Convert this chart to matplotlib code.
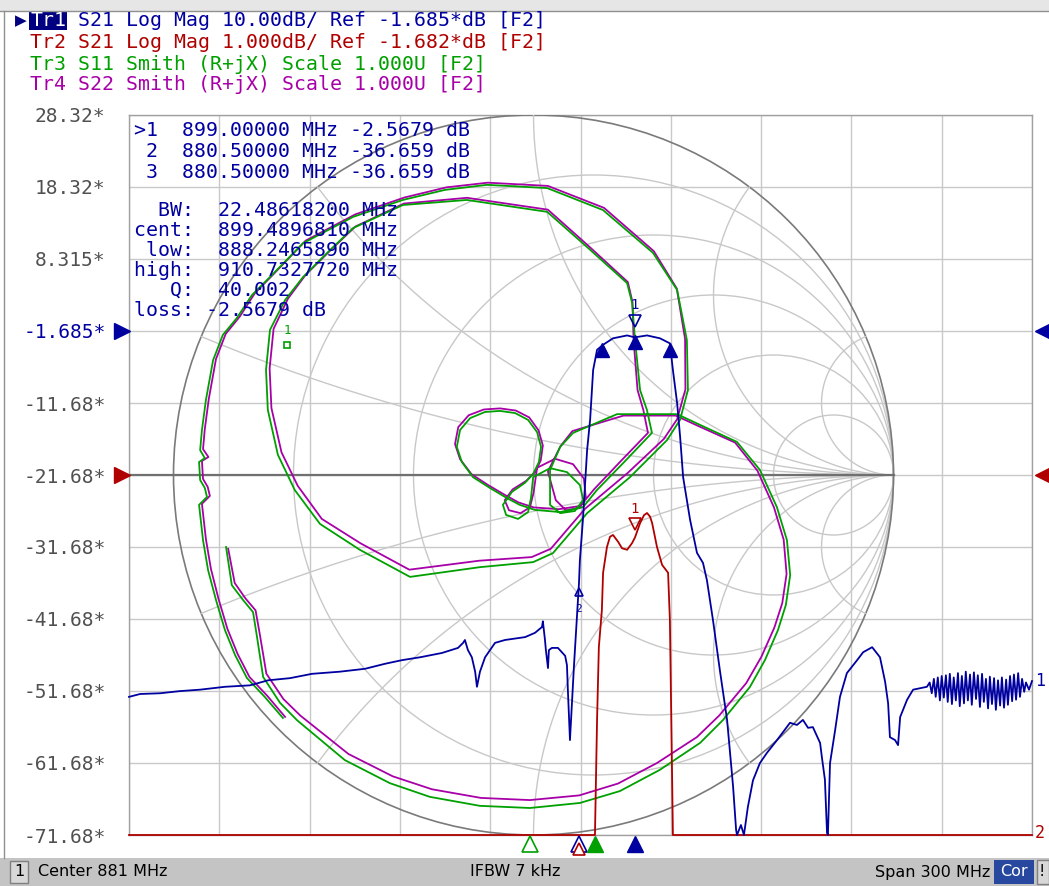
import numpy as np
import matplotlib
matplotlib.use('Agg')
import matplotlib.pyplot as plt
from matplotlib.patches import Circle, Rectangle
import matplotlib.transforms as mtrans

# ---------------- data ----------------
f_start, f_stop = 731.0, 1031.0          # Center 881 MHz, Span 300 MHz
tr1_ref, tr1_div = -1.685, 10.0          # dB, dB/div, ref at div 7 from bottom
tr2_ref, tr2_div = -1.682, 1.0           # dB, dB/div, ref at centre
ytick_labels = ["28.32*", "18.32*", "8.315*", "-1.685*", "-11.68*", "-21.68*",
                "-31.68*", "-41.68*", "-51.68*", "-61.68*", "-71.68*"]

# Tr1  S21 log mag (MHz, dB)
tr1_freq = [731.0, 734.7, 741.3, 747.9, 754.6, 762.9, 771.2, 777.2, 784.5, 791.8,
            801.1, 809.4, 816.1, 821.7, 827.7, 835.0, 840.3, 842.0, 842.6, 843.6,
            844.9, 846.0, 846.6, 847.6, 849.3, 852.6, 855.9, 862.6, 865.9, 868.2,
            868.5, 869.2, 869.5, 870.2, 870.5, 871.5, 873.5, 875.9, 876.5, 876.8,
            877.5, 878.2, 878.8, 879.5, 880.5, 880.8, 881.8, 883.2, 884.2, 885.2,
            886.5, 888.5, 891.8, 896.5, 899.0, 903.1, 907.4, 910.7, 911.7, 913.1,
            914.1, 915.1, 917.4, 919.7, 921.7, 923.0, 925.0, 927.3, 929.7, 930.7,
            931.7, 932.7, 933.0, 934.3, 935.3, 936.6, 938.3, 940.6, 942.9, 946.3,
            950.6, 952.9, 954.9, 956.6, 958.2, 960.6, 961.2, 962.2, 962.9, 963.2,
            963.9, 965.6, 967.2, 969.5, 972.9, 974.9, 977.9, 980.5, 982.2, 983.2,
            983.8, 985.5, 986.5, 987.2, 989.5, 991.5, 993.8, 996.1,
            997.0, 997.7, 998.4, 999.0, 999.7, 1000.4, 1001.0, 1001.7, 1002.4, 1003.0,
            1003.7, 1004.4, 1005.0, 1005.7, 1006.4, 1007.0, 1007.7, 1008.4, 1009.0, 1009.7,
            1010.4, 1011.0, 1011.7, 1012.4, 1013.0, 1013.7, 1014.4, 1015.0, 1015.7, 1016.4,
            1017.0, 1017.7, 1018.4, 1019.0, 1019.7, 1020.4, 1021.0, 1021.7, 1022.4, 1023.0,
            1023.7, 1024.4, 1025.0, 1025.7, 1026.4, 1027.0, 1027.7, 1028.4, 1029.0, 1030.0,
            1031.0]
tr1_db = [-52.5, -52.1, -52.0, -51.7, -51.5, -51.1, -50.9, -50.2, -49.9, -49.3,
          -49.0, -48.6, -47.9, -47.4, -47.0, -46.4, -45.7, -45.0, -44.6, -46.0,
          -47.0, -49.0, -51.1, -49.0, -47.0, -45.0, -44.6, -44.2, -43.6, -42.8,
          -42.0, -44.6, -46.0, -48.5, -46.0, -45.7, -45.7, -46.8, -48.1, -51.5,
          -58.5, -53.0, -48.4, -43.6, -36.66, -33.5, -27.9, -18.2, -14.0, -7.1,
          -4.3, -3.6, -2.7, -2.3, -2.57, -2.3, -2.7, -3.4, -7.1, -11.7,
          -16.4, -22.0, -27.9, -32.5, -33.9, -36.3, -41.8, -48.8, -55.7, -60.3,
          -65.0, -71.0, -71.68, -70.3, -71.68, -67.8, -64.1, -61.7, -60.3, -58.5,
          -56.1, -56.4, -55.7, -56.8, -56.7, -58.9, -60.9, -64.0, -71.4, -71.68,
          -61.7, -57.1, -52.5, -49.2, -47.4, -46.3, -45.6, -47.0, -50.4, -53.4,
          -58.1, -58.5, -59.2, -55.3, -52.9, -51.5, -51.3, -51.1,
          -50.5, -52.0, -50.0, -52.5, -49.8, -53.0, -49.6, -52.6, -49.5, -53.2,
          -49.3, -53.5, -49.8, -53.0, -49.2, -53.8, -49.6, -53.4, -49.0, -53.0,
          -49.4, -53.6, -49.1, -52.8, -49.5, -53.9, -49.3, -53.2, -50.0, -54.1,
          -49.7, -53.5, -49.9, -54.3, -50.2, -53.7, -49.8, -54.0, -50.1, -53.6,
          -49.6, -53.1, -49.4, -52.9, -49.2, -52.5, -50.0, -51.8, -50.5, -51.5,
          -50.3]

# Tr2  S21 log mag zoomed (MHz, dB), clamped at the display floor
tr2_freq = [731.0, 885.8, 886.5, 887.1, 888.1, 888.5, 889.8, 890.8, 891.8, 893.5,
            894.8, 896.5, 898.1, 899.1, 900.8, 902.1, 903.1, 904.1, 904.8, 906.4,
            908.1, 910.1, 910.7, 911.4, 911.7, 1031.0]
tr2_db = [-6.682, -6.682, -5.085, -4.07, -3.56, -3.04, -2.68, -2.54, -2.515, -2.61,
          -2.70, -2.72, -2.63, -2.55, -2.35, -2.24, -2.21, -2.26, -2.35, -2.68,
          -2.93, -3.04, -3.70, -5.78, -6.682, -6.682]

# Tr3  S11 Smith (reflection coefficient, real / imag)
s11_re = [-0.696, -0.746, -0.796, -0.829, -0.857, -0.882, -0.904, -0.918, -0.929, -0.907,
          -0.913, -0.926, -0.929, -0.913, -0.926, -0.921, -0.910, -0.890, -0.863, -0.824,
          -0.782, -0.732, -0.640, -0.501, -0.363, -0.246, -0.129, 0.038, 0.193, 0.332,
          0.399, 0.426, 0.429, 0.407, 0.371, 0.268, 0.149, 0.054, -0.001, -0.149,
          -0.343, -0.482, -0.593, -0.663, -0.710, -0.738, -0.743, -0.732, -0.690, -0.640,
          -0.565, -0.501, -0.363, -0.185, 0.038, 0.149, 0.260, 0.274, 0.282, 0.296,
          0.315, 0.329, 0.249, 0.176, 0.138,
          0.074, 0.004, -0.038,
          -0.074, -0.121, -0.168, -0.199, -0.213, -0.204, -0.176, -0.135, -0.093, -0.051,
          -0.015, 0.010, 0.021, 0.015, -0.001, -0.024,
          -0.060, -0.085, -0.076, -0.043, -0.015, -0.007, -0.001, 0.046, 0.093, 0.129,
          0.138, 0.115, 0.074, 0.046, 0.046, 0.074, 0.110, 0.232, 0.399,
          0.463, 0.565, 0.629, 0.676, 0.704, 0.713,
          0.701, 0.679, 0.643, 0.601, 0.526, 0.463, 0.351, 0.240, 0.129, -0.010,
          -0.149, -0.288, -0.399, -0.524, -0.657, -0.704, -0.751, -0.768, -0.779, -0.807,
          -0.838, -0.854]
s11_im = [-0.675, -0.617, -0.564, -0.500, -0.431, -0.347, -0.264, -0.181, -0.083, -0.061,
          -0.036, -0.014, 0.036, 0.047, 0.069, 0.125, 0.208, 0.319, 0.389, 0.436,
          0.500, 0.550, 0.644, 0.717, 0.764, 0.792, 0.806, 0.797, 0.736, 0.617,
          0.514, 0.375, 0.236, 0.153, 0.097, -0.006, -0.106, -0.217, -0.242, -0.256,
          -0.283, -0.208, -0.136, -0.042, 0.056, 0.181, 0.292, 0.403, 0.486, 0.550,
          0.625, 0.686, 0.750, 0.764, 0.731, 0.633, 0.533, 0.478, 0.375, 0.236,
          0.181, 0.117, 0.033, -0.042, -0.089,
          -0.103, -0.097, -0.083,
          -0.064, -0.036, -0.006, 0.036, 0.078, 0.125, 0.158, 0.175, 0.178, 0.172,
          0.153, 0.119, 0.078, 0.036, 0.003, -0.022,
          -0.047, -0.083, -0.111, -0.122, -0.103, -0.064, -0.006, 0.019, 0.008, -0.028,
          -0.069, -0.100, -0.106, -0.083, 0.014, 0.078, 0.117, 0.169, 0.169,
          0.139, 0.092, 0.014, -0.089, -0.181, -0.278,
          -0.361, -0.431, -0.514, -0.589, -0.681, -0.744, -0.819, -0.878, -0.911, -0.925,
          -0.919, -0.894, -0.856, -0.792, -0.681, -0.633, -0.561, -0.450, -0.381, -0.347,
          -0.306, -0.200]

# Tr4  S22 Smith (reflection coefficient, real / imag)
s22_re = [-0.690, -0.739, -0.789, -0.822, -0.850, -0.875, -0.896, -0.910, -0.921, -0.899,
          -0.905, -0.918, -0.921, -0.903, -0.918, -0.913, -0.902, -0.882, -0.855, -0.816,
          -0.774, -0.724, -0.633, -0.495, -0.358, -0.242, -0.127, 0.040, 0.196, 0.334,
          0.398, 0.421, 0.422, 0.399, 0.362, 0.262, 0.143, 0.048, -0.005, -0.150,
          -0.345, -0.480, -0.588, -0.655, -0.700, -0.728, -0.733, -0.722, -0.682, -0.633,
          -0.558, -0.495, -0.360, -0.185, 0.040, 0.152, 0.262, 0.275, 0.278, 0.289,
          0.305, 0.318, 0.240, 0.168, 0.130,
          0.070, 0.000, -0.042,
          -0.080, -0.126, -0.172, -0.204, -0.218, -0.209, -0.180, -0.138, -0.093, -0.049,
          -0.012, 0.014, 0.026, 0.020, 0.004, -0.020,
          -0.058, -0.080, -0.068, -0.036, -0.010, 0.000, 0.010, 0.060, 0.110, 0.140,
          0.145, 0.128, 0.090, 0.062, 0.040, 0.075, 0.108, 0.250, 0.395,
          0.458, 0.560, 0.622, 0.668, 0.695, 0.703,
          0.691, 0.669, 0.633, 0.591, 0.516, 0.454, 0.343, 0.235, 0.127, -0.010,
          -0.146, -0.282, -0.391, -0.514, -0.648, -0.695, -0.742, -0.760, -0.772, -0.800,
          -0.830, -0.848]
s22_im = [-0.672, -0.614, -0.561, -0.497, -0.428, -0.344, -0.261, -0.178, -0.080, -0.058,
          -0.033, -0.011, 0.039, 0.050, 0.072, 0.128, 0.211, 0.322, 0.392, 0.440,
          0.505, 0.556, 0.651, 0.724, 0.771, 0.799, 0.812, 0.803, 0.742, 0.622,
          0.518, 0.378, 0.238, 0.155, 0.100, 0.006, -0.094, -0.205, -0.228, -0.238,
          -0.263, -0.190, -0.122, -0.030, 0.063, 0.186, 0.296, 0.406, 0.490, 0.556,
          0.630, 0.690, 0.754, 0.770, 0.737, 0.637, 0.536, 0.480, 0.375, 0.236,
          0.181, 0.117, 0.036, -0.040, -0.086,
          -0.095, -0.090, -0.076,
          -0.055, -0.028, 0.002, 0.044, 0.086, 0.133, 0.166, 0.182, 0.185, 0.179,
          0.160, 0.124, 0.082, 0.040, 0.008, -0.016,
          -0.040, -0.070, -0.098, -0.106, -0.090, -0.050, 0.020, 0.045, 0.030, -0.010,
          -0.060, -0.092, -0.098, -0.070, 0.010, 0.080, 0.122, 0.165, 0.165,
          0.136, 0.090, 0.012, -0.090, -0.180, -0.275,
          -0.356, -0.424, -0.505, -0.578, -0.668, -0.728, -0.800, -0.857, -0.890, -0.903,
          -0.897, -0.873, -0.837, -0.775, -0.668, -0.622, -0.552, -0.444, -0.376, -0.343,
          -0.300, -0.205]

# markers
mk1_freq, mk1_db = 899.0, -2.5679
mk23_freq, mk23_db = 880.5, -36.659
bw_low, bw_high = 888.2465890, 910.7327720
smith_r = [0.2, 0.5, 1.0, 2.0, 5.0]
smith_x = [0.2, 0.5, 1.0, 2.0, 5.0]

header = ["Tr1 S21 Log Mag 10.00dB/ Ref -1.685*dB [F2]",
          "Tr2 S21 Log Mag 1.000dB/ Ref -1.682*dB [F2]",
          "Tr3 S11 Smith (R+jX) Scale 1.000U [F2]",
          "Tr4 S22 Smith (R+jX) Scale 1.000U [F2]"]
marker_lines = [">1  899.00000 MHz -2.5679 dB",
                " 2  880.50000 MHz -36.659 dB",
                " 3  880.50000 MHz -36.659 dB"]
bw_lines = ["  BW:  22.48618200 MHz",
            "cent:  899.4896810 MHz",
            " low:  888.2465890 MHz",
            "high:  910.7327720 MHz",
            "   Q:  40.002",
            "loss: -2.5679 dB"]

# ---------------- style ----------------
BLUE = '#0000a0'
RED = '#b00000'
GREEN = '#00a000'
MAG = '#a800a8'
GRID = '#c8c8c8'
MONO = 'DejaVu Sans Mono'
FS = 14.3
CW = FS / 72 * 100 * 0.602   # character width in pixels

W, H = 1049, 886
fig = plt.figure(figsize=(W / 100, H / 100), dpi=100)
fig.patch.set_facecolor('white')

def fx(p):
    return p / W

def fy(p):
    return 1 - p / H

# window frame
fig.add_artist(Rectangle((0, fy(11)), 1, 11 / H, transform=fig.transFigure,
                         facecolor='#e6e6e6', edgecolor='none'))
fig.add_artist(plt.Line2D([0, 1], [fy(11), fy(11)], transform=fig.transFigure,
                          color='#909090', lw=1))
fig.add_artist(plt.Line2D([fx(4), fx(4)], [fy(11), fy(858)], transform=fig.transFigure,
                          color='#909090', lw=1))

L, R, T, B = 129, 1032, 115, 835
pos = [L / W, (H - B) / H, (R - L) / W, (B - T) / H]

tr1_top = tr1_ref + 3 * tr1_div
tr1_bot = tr1_ref - 7 * tr1_div
tr2_top = tr2_ref + 5 * tr2_div
tr2_bot = tr2_ref - 5 * tr2_div

# background rectangular grid
ax = fig.add_axes(pos)
ax.set_xlim(f_start, f_stop)
ax.set_ylim(tr1_bot, tr1_top)
ax.set_xticks(np.linspace(f_start, f_stop, 11))
yt = [tr1_top - i * tr1_div for i in range(11)]
ax.set_yticks(yt)
ax.set_yticklabels(ytick_labels, family=MONO, fontsize=14.0)
for lab in ax.get_yticklabels():
    lab.set_color(BLUE if lab.get_text() == "-1.685*" else '#505050')
ax.set_xticklabels([])
ax.tick_params(length=0, pad=17)
ax.grid(True, color=GRID, lw=1)
for s in ax.spines.values():
    s.set_color('#a0a0a0')
    s.set_linewidth(1)
ax.set_zorder(0)

# Smith chart
ax_s = fig.add_axes(pos)
ax_s.set_zorder(1)
ax_s.patch.set_alpha(0)
cx = 533.5
rad = 360.0
ax_s.set_xlim((L - cx) / rad, (R - cx) / rad)
ax_s.set_ylim(-1, 1)
ax_s.axis('off')
for r in smith_r:
    ax_s.add_patch(Circle((r / (1 + r), 0), 1 / (1 + r), fill=False, ec=GRID, lw=1))
rr = np.concatenate([[0], np.logspace(-3, 3, 500)])
for xv in smith_x:
    for sgn in (1, -1):
        z = rr + 1j * sgn * xv
        g = (z - 1) / (z + 1)
        ax_s.plot(g.real, g.imag, color=GRID, lw=1)
ax_s.add_patch(Circle((0, 0), 1, fill=False, ec='#7a7a7a', lw=1.2))
ax_s.plot([(L - cx) / rad, 1], [0, 0], color='#707070', lw=1.6)
ax_s.plot(s22_re, s22_im, color=MAG, lw=1.3)
ax_s.plot(s11_re, s11_im, color=GREEN, lw=1.3)
ax_s.text(-0.684, 0.40, "1", color=GREEN, family=MONO, fontsize=9,
          ha='center', va='center')
ax_s.plot([-0.684], [0.36], marker='s', ms=5, mfc='none', mec=GREEN, mew=1.2)

# Tr2
ax_r = fig.add_axes(pos)
ax_r.set_zorder(2)
ax_r.patch.set_alpha(0)
ax_r.set_xlim(f_start, f_stop)
ax_r.set_ylim(tr2_bot, tr2_top)
ax_r.axis('off')
ax_r.plot(tr2_freq, tr2_db, color=RED, lw=1.3, clip_on=False)
ax_r.text(mk1_freq, -2.16, "1", color=RED, family=MONO, fontsize=10, ha='center', va='center')
ax_r.plot([mk1_freq], [-2.36], marker='v', ms=8, mfc='none', mec=RED, mew=1.2)

# Tr1
ax_b = fig.add_axes(pos)
ax_b.set_zorder(3)
ax_b.patch.set_alpha(0)
ax_b.set_xlim(f_start, f_stop)
ax_b.set_ylim(tr1_bot, tr1_top)
ax_b.axis('off')
ax_b.plot(tr1_freq, tr1_db, color=BLUE, lw=1.3, clip_on=False)
ax_b.text(mk1_freq, 1.9, "1", color=BLUE, family=MONO, fontsize=10, ha='center', va='center')
ax_b.plot([mk1_freq], [-0.3], marker='v', ms=8, mfc='none', mec=BLUE, mew=1.2)
ax_b.plot([bw_low, mk1_freq, bw_high], [-4.3, -3.2, -4.3], ls='none', marker='^', ms=10,
          color=BLUE)
ax_b.plot([mk23_freq], [-38.0], marker='^', ms=6, mfc='none', mec=BLUE, mew=1.2)
ax_b.text(mk23_freq, -40.3, "2", color=BLUE, family=MONO, fontsize=8, ha='center', va='center')

# reference-level triangles and trace numbers at the edges
tb = mtrans.blended_transform_factory(ax_b.transAxes, ax_b.transData)
tr = mtrans.blended_transform_factory(ax_r.transAxes, ax_r.transData)
ax_b.plot([-0.008], [tr1_ref], marker='>', ms=11, color=BLUE, transform=tb, clip_on=False)
ax_b.plot([1.0125], [tr1_ref], marker='<', ms=11, color=BLUE, transform=tb, clip_on=False)
ax_r.plot([-0.008], [tr2_ref], marker='>', ms=11, color=RED, transform=tr, clip_on=False)
ax_r.plot([1.0125], [tr2_ref], marker='<', ms=11, color=RED, transform=tr, clip_on=False)
ax_b.text(1.003, tr1_db[-1], "1", color=BLUE, family=MONO, fontsize=12, transform=tb,
          ha='left', va='center')
ax_r.text(1.003, tr2_bot + 0.03, "2", color=RED, family=MONO, fontsize=12, transform=tr,
          ha='left', va='center')

# stimulus markers below the grid
tx = mtrans.blended_transform_factory(ax_b.transData, ax_b.transAxes)
ax_b.plot([864.2], [-0.012], marker='^', ms=11, mfc='white', mec=GREEN, mew=1.2,
          transform=tx, clip_on=False)
ax_b.plot([mk23_freq], [-0.012], marker='^', ms=11, mfc='white', mec=BLUE, mew=1.2,
          transform=tx, clip_on=False)
ax_b.plot([mk23_freq], [-0.02], marker='^', ms=8, mfc='white', mec=RED, mew=1.2,
          transform=tx, clip_on=False)
ax_b.plot([885.8], [-0.012], marker='^', ms=11, color=GREEN, transform=tx, clip_on=False)
ax_b.plot([mk1_freq], [-0.012], marker='^', ms=11, color=BLUE, transform=tx, clip_on=False)

# header
hcol = [BLUE, RED, GREEN, MAG]
hy = [21, 43, 64, 85]
x0 = 30
for i, (txt, c, y) in enumerate(zip(header, hcol, hy)):
    if i == 0:
        fig.text(fx(x0 + 4 * CW), fy(y), txt[4:], color=c, family=MONO, fontsize=FS,
                 va='center', ha='left')
    else:
        fig.text(fx(x0), fy(y), txt, color=c, family=MONO, fontsize=FS, va='center', ha='left')
fig.add_artist(Rectangle((fx(x0 - 1), fy(30)), (3 * CW + 2) / W, 18 / H,
                         transform=fig.transFigure, facecolor='#000080', edgecolor='none'))
fig.text(fx(x0), fy(21), header[0][:3], color='white', family=MONO, fontsize=FS,
         va='center', ha='left')
fig.text(fx(15), fy(21), "\u25B6", color='#000080', family='DejaVu Sans', fontsize=11,
         va='center', ha='left')

# marker table
for i, t in enumerate(marker_lines):
    fig.text(fx(134), fy(131 + 20.5 * i), t, color=BLUE, family=MONO, fontsize=FS,
             va='center', ha='left')
for i, t in enumerate(bw_lines):
    fig.text(fx(134), fy(210 + 20 * i), t, color=BLUE, family=MONO, fontsize=FS,
             va='center', ha='left')

# status bar
fig.add_artist(Rectangle((0, 0), 1, 28 / H, transform=fig.transFigure,
                         facecolor='#c4c4c4', edgecolor='none'))
fig.add_artist(Rectangle((fx(10), fy(883)), 18 / W, 22 / H, transform=fig.transFigure,
                         facecolor='#d8d8d8', edgecolor='#808080', lw=1))
fig.text(fx(19), fy(872), "1", fontsize=11.5, ha='center', va='center', color='black')
fig.text(fx(38), fy(872), "Center 881 MHz", fontsize=11.5, ha='left', va='center', color='black')
fig.text(fx(515), fy(872), "IFBW 7 kHz", fontsize=11.5, ha='center', va='center', color='black')
fig.text(fx(990), fy(872), "Span 300 MHz", fontsize=11.5, ha='right', va='center', color='black')
fig.add_artist(Rectangle((fx(994), fy(884)), 40 / W, 24 / H, transform=fig.transFigure,
                         facecolor='#2848a0', edgecolor='none'))
fig.text(fx(1014), fy(872), "Cor", fontsize=11.5, ha='center', va='center', color='white')
fig.add_artist(Rectangle((fx(1037), fy(884)), 12 / W, 24 / H, transform=fig.transFigure,
                         facecolor='#d8d8d8', edgecolor='#808080', lw=1))
fig.text(fx(1042), fy(872), "!", fontsize=11.5, ha='center', va='center', color='black')

fig.savefig('out.png', dpi=100, facecolor=fig.get_facecolor())
